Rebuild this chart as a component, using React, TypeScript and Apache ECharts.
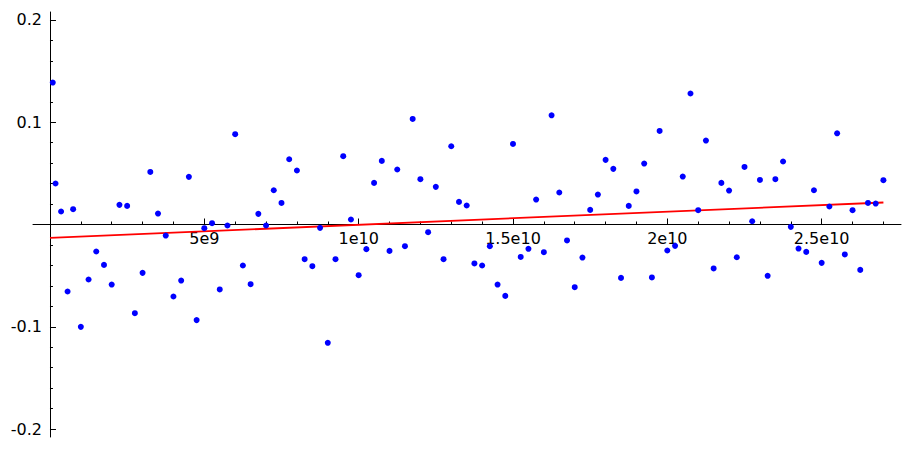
import React, { useEffect, useRef } from "react";
import * as echarts from "echarts";

// x values in units of 1e9
const xBillions: number[] = [
  0.09, 0.18, 0.36, 0.57, 0.75, 1, 1.25, 1.5, 1.75, 2, 2.25, 2.5, 2.75, 3, 3.25, 3.5, 3.75, 4, 4.25, 4.5,
  4.75, 5, 5.25, 5.5, 5.75, 6, 6.25, 6.5, 6.75, 7, 7.25, 7.5, 7.75, 8, 8.25, 8.5, 8.75, 9, 9.25, 9.5,
  9.75, 10, 10.25, 10.5, 10.75, 11, 11.25, 11.5, 11.75, 12, 12.25, 12.5, 12.75, 13, 13.25, 13.5, 13.75, 14, 14.25, 14.5,
  14.75, 15, 15.25, 15.5, 15.75, 16, 16.25, 16.5, 16.75, 17, 17.25, 17.5, 17.75, 18, 18.25, 18.5, 18.75, 19, 19.25, 19.5,
  19.75, 20, 20.25, 20.5, 20.75, 21, 21.25, 21.5, 21.75, 22, 22.25, 22.5, 22.75, 23, 23.25, 23.5, 23.75, 24, 24.25, 24.5,
  24.75, 25, 25.25, 25.5, 25.75, 26, 26.25, 26.5, 26.75, 27,
];

const yValues: number[] = [
  0.1388, 0.0401, 0.0127, -0.0655, 0.015, -0.1001, -0.0538, -0.0264, -0.0395, -0.0587,
  0.0192, 0.0182, -0.0867, -0.0473, 0.0514, 0.0107, -0.0108, -0.0704, -0.0548, 0.0466,
  -0.0935, -0.0036, 0.0013, -0.0635, -0.001, 0.0883, -0.0401, -0.0584, 0.0104, -0.001,
  0.0335, 0.0211, 0.0638, 0.0528, -0.0339, -0.0408, -0.0033, -0.1157, -0.0339, 0.0668,
  0.0049, -0.0496, -0.0241, 0.0407, 0.0622, -0.0258, 0.0538, -0.0212, 0.1032, 0.0443,
  -0.0075, 0.0368, -0.0339, 0.0765, 0.0221, 0.0186, -0.0381, -0.0401, -0.0212, -0.0587,
  -0.0698, 0.0788, -0.0317, -0.0238, 0.0244, -0.0271, 0.1068, 0.0313, -0.0156, -0.0613,
  -0.0323, 0.0143, 0.0293, 0.0632, 0.0544, -0.0522, 0.0182, 0.0323, 0.0596, -0.0518,
  0.0915, -0.0254, -0.0209, 0.0469, 0.1281, 0.014, 0.0821, -0.043, 0.0407, 0.0332,
  -0.032, 0.0563, 0.0032, 0.0436, -0.0502, 0.0443, 0.0616, -0.0023, -0.0235, -0.0268,
  0.0335, -0.0375, 0.0176, 0.0892, -0.0293, 0.014, -0.0444, 0.0211, 0.0205, 0.0433,
];

// fitted line endpoints (x in 1e9)
const fitX: number[] = [0, 27];
const fitY: number[] = [-0.0131, 0.0215];

const xTickValues: number[] = [5, 10, 15, 20, 25];
const xTickLabels: string[] = ["5e9", "1e10", "1.5e10", "2e10", "2.5e10"];
const yTickValues: number[] = [-0.2, -0.1, 0.1, 0.2];
const yTickLabels: string[] = ["-0.2", "-0.1", "0.1", "0.2"];

const GRID = { left: 33, right: 12, top: 12, bottom: 12 };
const W = 913;
const H = 449;

export default function App() {
  const ref = useRef<HTMLDivElement>(null);

  useEffect(() => {
    if (!ref.current) return;
    const chart = echarts.init(ref.current, undefined, { renderer: "svg" });
    const font = { fontFamily: "DejaVu Sans", fontSize: 16, color: "#000" };
    const findLabel = (vals: number[], labels: string[], v: number) => {
      for (let i = 0; i < vals.length; i++) {
        if (Math.abs(vals[i] - v) < 1e-9) return labels[i];
      }
      return "";
    };
    chart.setOption({
      animation: false,
      backgroundColor: "#fff",
      grid: { ...GRID, containLabel: false, outerBoundsMode: "none" },
      xAxis: {
        type: "value",
        min: -0.55,
        max: 27.57,
        offset: 0,
        axisLine: { show: true, onZero: false, lineStyle: { color: "#000", width: 1 } },
        axisTick: { show: true, inside: true, length: 6, customValues: xTickValues, lineStyle: { color: "#000", width: 1 } },
        minorTick: { show: true, splitNumber: 5, length: 3, lineStyle: { color: "#000", width: 1 } },
        axisLabel: {
          ...font,
          margin: 6,
          align: "center",
          verticalAlign: "top",
          customValues: xTickValues,
          formatter: (v: number) => findLabel(xTickValues, xTickLabels, v),
        },
        splitLine: { show: false },
        minorSplitLine: { show: false },
      },
      yAxis: {
        type: "value",
        min: -0.2078,
        max: 0.2078,
        offset: 0,
        axisLine: { show: true, onZero: false, lineStyle: { color: "#000", width: 1 } },
        axisTick: { show: true, inside: true, length: 6, customValues: yTickValues, lineStyle: { color: "#000", width: 1 } },
        minorTick: { show: true, splitNumber: 5, length: 3, lineStyle: { color: "#000", width: 1 } },
        axisLabel: {
          ...font,
          margin: 8,
          align: "right",
          verticalAlign: "middle",
          customValues: yTickValues,
          formatter: (v: number) => findLabel(yTickValues, yTickLabels, v),
        },
        splitLine: { show: false },
        minorSplitLine: { show: false },
      },
      series: [
        {
          type: "line",
          data: fitX.map((x, i) => [x, fitY[i]]),
          showSymbol: false,
          symbol: "none",
          lineStyle: { color: "#ff0000", width: 1.8 },
          z: 2,
        },
        {
          type: "scatter",
          data: xBillions.map((x, i) => [x, yValues[i]]),
          symbol: "circle",
          symbolSize: 6,
          itemStyle: { color: "#0000ff", opacity: 1 },
          z: 3,
        },
      ],
    });
    // move the axes so they cross at the origin (0, 0)
    const origin = chart.convertToPixel({ gridIndex: 0 }, [0, 0]) as number[];
    if (origin && isFinite(origin[0]) && isFinite(origin[1])) {
      chart.setOption({
        xAxis: { offset: origin[1] - (H - GRID.bottom) },
        yAxis: { offset: GRID.left - origin[0] },
      });
    }
    return () => chart.dispose();
  }, []);

  return (
    <div
      ref={ref}
      style={{ position: "absolute", left: 0, top: 0, width: W, height: H, background: "#fff" }}
    />
  );
}
